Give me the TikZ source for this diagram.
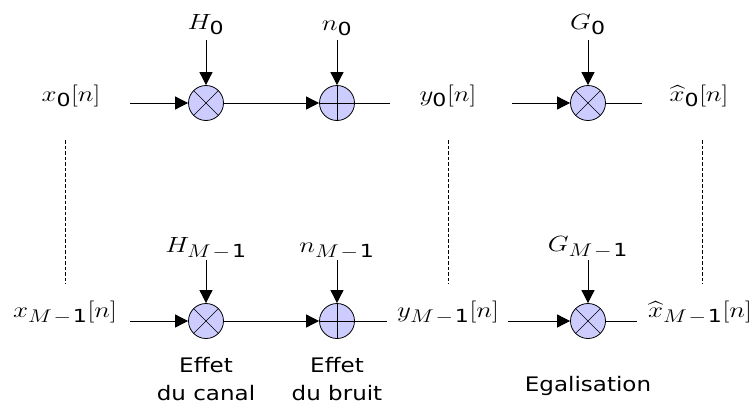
\documentclass[tikz,border=0pt]{standalone}
\usepackage{amsmath}
\usepackage{graphicx}
\usepackage{fontspec}
\setsansfont{DejaVu Sans}
\usetikzlibrary{arrows.meta}
\DeclareMathSizes{20.74}{20.74}{17}{12}
\newcommand\sx[1]{\scalebox{1.15}[1]{#1}}
\newcommand\sxm[1]{\scalebox{1.3}[1.06]{#1}}
\newcommand\dg[1]{\textsf{#1}}
\newcommand\mone{M\mkern1.5mu-\mkern1.5mu\dg{1}}
\definecolor{opfill}{HTML}{CCCCFF}
\tikzset{
  op/.style={circle,draw,fill=opfill,minimum size=35pt,inner sep=0pt,line width=0.8pt},
  mult/.style={op,path picture={
      \draw[line width=0.6pt] ([shift={(-12.4pt,-12.4pt)}]path picture bounding box.center) -- ([shift={(12.4pt,12.4pt)}]path picture bounding box.center);
      \draw[line width=0.6pt] ([shift={(-12.4pt,12.4pt)}]path picture bounding box.center) -- ([shift={(12.4pt,-12.4pt)}]path picture bounding box.center);}},
  addr/.style={op,path picture={
      \draw[line width=0.6pt] (path picture bounding box.west) -- (path picture bounding box.east);
      \draw[line width=0.6pt] (path picture bounding box.north) -- (path picture bounding box.south);}},
  lab/.style={inner sep=0pt,anchor=base,font=\fontsize{20.74}{25}\selectfont},
  txt/.style={inner sep=0pt,anchor=base,font=\sffamily\fontsize{20}{24}\selectfont},
  arr/.style={-{Triangle[length=13pt,width=13pt]},line width=0.8pt},
  ln/.style={line width=0.8pt},
  dsh/.style={line width=0.6pt,dash pattern=on 3.5pt off 2pt}
}
\begin{document}
\begin{tikzpicture}[x=1pt,y=-1pt]
\useasboundingbox (0,0) rectangle (756,410);
% top row
\node[mult] (m1) at (206,103) {};
\node[addr] (a1) at (337,103) {};
\node[mult] (g1) at (588,103) {};
\node[lab] (x0) at (71,101) {\sxm{$x_{\dg{0}}[n]$}};
\node[lab] (y0) at (448,101) {\sxm{$y_{\dg{0}}[n]$}};
\node[lab] (xh0) at (699,101) {\sxm{$\widehat{x}_{\dg{0}}[n]$}};
\node[lab] (H0) at (206,29) {\sxm{$H_{\dg{0}}$}};
\node[lab] (n0) at (337,30) {\sxm{$n_{\dg{0}}$}};
\node[lab] (G0) at (588,29) {\sxm{$G_{\dg{0}}$}};
\coordinate (s1) at (130,103);
\coordinate (e1) at (390,103);
\coordinate (s2) at (512,103);
\coordinate (e2) at (642,103);
\coordinate (h0t) at (206,40);
\coordinate (n0t) at (337,40);
\coordinate (g0t) at (588,40);
\draw[arr] (s1) -- (m1);
\draw[arr] (m1) -- (a1);
\draw[ln] (a1) -- (e1);
\draw[arr] (s2) -- (g1);
\draw[ln] (g1) -- (e2);
\draw[arr] (h0t) -- (m1);
\draw[arr] (n0t) -- (a1);
\draw[arr] (g0t) -- (g1);
% bottom row
\node[mult] (m2) at (206,321) {};
\node[addr] (a2) at (337,321) {};
\node[mult] (g2) at (588,321) {};
\node[lab] (xM) at (65,317) {\sxm{$x_{\mone}[n]$}};
\node[lab] (yM) at (448,317) {\sxm{$y_{\mone}[n]$}};
\node[lab] (xhM) at (700,317) {\sxm{$\widehat{x}_{\mone}[n]$}};
\node[lab] (HM) at (206,252) {\sxm{$H_{\mone}$}};
\node[lab] (nM) at (337,252) {\sxm{$n_{\mone}$}};
\node[lab] (GM) at (588,251) {\sxm{$G_{\mone}$}};
\coordinate (s3) at (130,321);
\coordinate (e3) at (387,321);
\coordinate (s4) at (508,321);
\coordinate (e4) at (637,321);
\coordinate (hMt) at (206,260);
\coordinate (nMt) at (337,260);
\coordinate (gMt) at (588,260);
\draw[arr] (s3) -- (m2);
\draw[arr] (m2) -- (a2);
\draw[ln] (a2) -- (e3);
\draw[arr] (s4) -- (g2);
\draw[ln] (g2) -- (e4);
\draw[arr] (hMt) -- (m2);
\draw[arr] (nMt) -- (a2);
\draw[arr] (gMt) -- (g2);
% captions
\node[txt] (c1a) at (206,372) {\sx{Effet}};
\node[txt] (c1b) at (206,400) {\sx{du canal}};
\node[txt] (c2a) at (337,372) {\sx{Effet}};
\node[txt] (c2b) at (337,400) {\sx{du bruit}};
\node[txt] (c3) at (588,391) {\sx{Egalisation}};
% dashed
\coordinate (d1a) at (65,140); \coordinate (d1b) at (65,284);
\coordinate (d2a) at (448,140); \coordinate (d2b) at (448,284);
\coordinate (d3a) at (702,140); \coordinate (d3b) at (702,284);
\draw[dsh] (d1a) -- (d1b);
\draw[dsh] (d2a) -- (d2b);
\draw[dsh] (d3a) -- (d3b);
\end{tikzpicture}
\end{document}
